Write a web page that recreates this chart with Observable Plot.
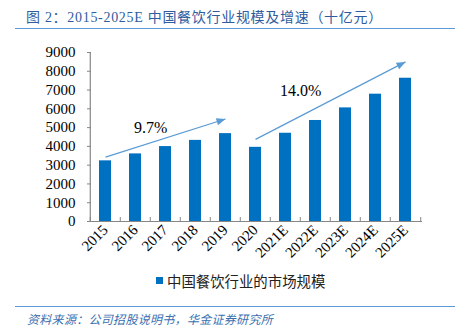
<!DOCTYPE html>
<html>
<head>
<meta charset="utf-8">
<script src="https://cdn.jsdelivr.net/npm/d3@7"></script>
<script src="https://cdn.jsdelivr.net/npm/@observablehq/plot@0.6"></script>
<style>
  html, body { margin: 0; padding: 0; background: #fff; }
  body { width: 455px; height: 330px; position: relative; overflow: hidden; }
  #title { position: absolute; left: 26px; top: 6px; font: 14px "Liberation Serif", "Noto Sans CJK SC", serif; color: #2e5c9e; white-space: pre; letter-spacing: 0.7px; }
  #topline { position: absolute; left: 15px; right: 0; top: 28px; height: 0; border-top: 1.5px solid #5b9bd5; }
  #chart { position: absolute; left: 0; top: 40px; }
  #legend { position: absolute; left: 156px; top: 270px; font: 14.4px "Noto Sans CJK SC", sans-serif; color: #222; white-space: nowrap; display: flex; align-items: center; }
  #legend .sw { width: 7px; height: 7px; background: #0070c0; margin-right: 4px; }
  #botline { position: absolute; left: 15px; right: 0; top: 306px; height: 0; border-top: 1.5px solid #5b9bd5; }
  #source { position: absolute; left: 27px; top: 310px; font: italic 12px "Noto Sans CJK SC", sans-serif; color: #3a6fb0; white-space: nowrap; letter-spacing: 0.3px; }
  #chart svg text { font-family: "Liberation Serif", serif; }
</style>
</head>
<body>
<div id="title">图 2：2015-2025E 中国餐饮行业规模及增速（十亿元）</div>
<div id="topline"></div>
<div id="chart"></div>
<div id="legend"><span class="sw"></span><span id="legendText"></span></div>
<div id="botline"></div>
<div id="source">资料来源：公司招股说明书，华金证券研究所</div>
<script>
const years = ["2015","2016","2017","2018","2019","2020","2021E","2022E","2023E","2024E","2025E"];
const marketSize = [3230, 3600, 3990, 4320, 4680, 3950, 4700, 5380, 6050, 6780, 7630];
const yTicks = [0,1000,2000,3000,4000,5000,6000,7000,8000,9000];
const seriesName = "中国餐饮行业的市场规模";
const growthLabels = ["9.7%", "14.0%"];
const arrowFrom = ["2015", "2020"];
const arrowFromValue = [3430, 4375];
const arrowTo = ["2019", "2025E"];
const arrowToValue = [5460, 8500];
const labelAt = ["2016", "2021E"];
const labelValue = [5000, 6950];

const W = 455, H = 230, ML = 87, MR = 33, MT = 12, MB = 49;
const step = (W - ML - MR) / years.length;

const bars = years.map((y, i) => ({year: y, value: marketSize[i]}));
const arrows = arrowFrom.map((f, i) => ({x1: f, y1: arrowFromValue[i], x2: arrowTo[i], y2: arrowToValue[i]}));
const labels = growthLabels.map((t, i) => ({x: labelAt[i], y: labelValue[i], text: t}));

function headMarker(color, context) {
  const doc = (context && context.document) || document;
  const ns = "http://www.w3.org/2000/svg";
  const m = doc.createElementNS(ns, "marker");
  m.setAttribute("viewBox", "-10 -5 10 10");
  m.setAttribute("markerUnits", "userSpaceOnUse");
  m.setAttribute("markerWidth", 10);
  m.setAttribute("markerHeight", 10);
  m.setAttribute("refX", 0);
  m.setAttribute("refY", 0);
  m.setAttribute("orient", "auto");
  const p = doc.createElementNS(ns, "path");
  p.setAttribute("d", "M-9,-3.6L0,0L-9,3.6Z");
  p.setAttribute("fill", color);
  p.setAttribute("stroke", "none");
  m.appendChild(p);
  return m;
}

const axisColor = "#868686";
const serif = "Liberation Serif";
const chart = Plot.plot({
  width: W, height: H,
  marginLeft: ML, marginRight: MR, marginTop: MT, marginBottom: MB,
  style: {fontFamily: serif, color: "#000", background: "transparent", overflow: "visible"},
  x: {domain: years, paddingInner: 0.6, paddingOuter: 0.3, label: null},
  y: {domain: [0, 9000], label: null},
  marks: [
    Plot.barY(bars, {x: "year", y: "value", fill: "#0070c0"}),
    Plot.ruleY([0], {stroke: axisColor, strokeWidth: 1.2}),
    Plot.ruleX([years[0]], {dx: -step / 2, stroke: axisColor, strokeWidth: 1.2}),
    Plot.axisY({ticks: yTicks, tickSize: -4, tickPadding: 16, stroke: axisColor, fontSize: 15, fontFamily: serif, tickFormat: d => String(d), label: null}),
    Plot.axisX({ticks: years, tickSize: -4, dx: -step / 2, stroke: axisColor, tickFormat: () => "", label: null}),
    Plot.axisX({ticks: [years[years.length - 1]], tickSize: -4, dx: step / 2, stroke: axisColor, tickFormat: () => "", label: null}),
    Plot.axisX({ticks: years, tickSize: 0, tickPadding: 6, tickRotate: -45, fontSize: 15, fontFamily: serif, label: null}),
    Plot.link(arrows, {x1: "x1", y1: "y1", x2: "x2", y2: "y2", stroke: "#5b9bd5", strokeWidth: 1.2, markerEnd: headMarker}),
    Plot.text(labels, {x: "x", y: "y", text: "text", dx: step / 2, fontSize: 16, fontFamily: serif, fill: "#000"})
  ]
});
document.getElementById("chart").appendChild(chart);
document.getElementById("legendText").textContent = seriesName;
</script>
</body>
</html>
